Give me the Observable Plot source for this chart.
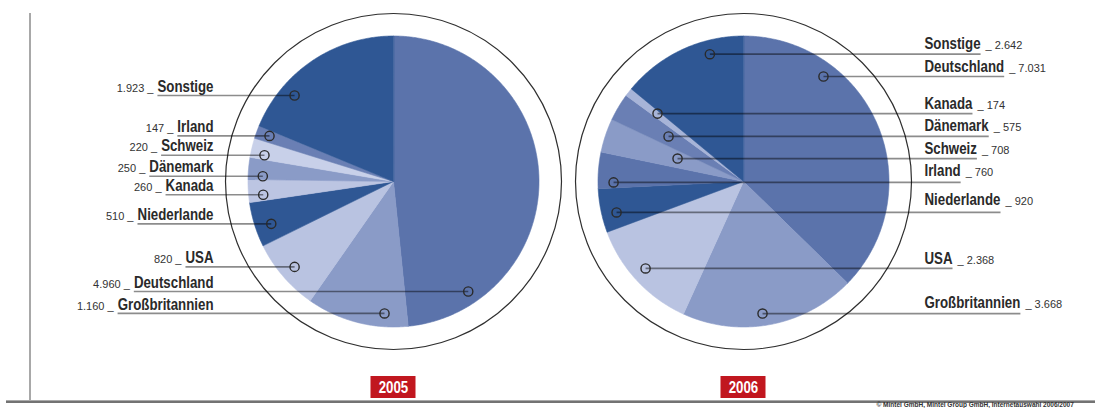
<!DOCTYPE html>
<html><head><meta charset="utf-8">
<script src="https://cdn.jsdelivr.net/npm/d3@7"></script>
<script src="https://cdn.jsdelivr.net/npm/@observablehq/plot@0.6"></script>
<style>
html,body{margin:0;padding:0;background:#fff;}
#chart svg{display:block;}
</style>
</head><body><div id="chart"></div>
<script>
// ---------------- data ----------------
const years = ["2005", "2006"];
const countries2005 = ["Deutschland","Großbritannien","USA","Niederlande","Kanada","Dänemark","Schweiz","Irland","Sonstige"];
const values2005 = [4960, 1160, 820, 510, 260, 250, 220, 147, 1923];
const countries2006 = ["Deutschland","Großbritannien","USA","Niederlande","Irland","Schweiz","Dänemark","Kanada","Sonstige"];
const values2006 = [7031, 3668, 2368, 920, 760, 708, 575, 174, 2642];
const caption = "© Mintel GmbH, Mintel Group GmbH, Internetauswahl 2006/2007";

// ---------------- styles ----------------
const colors2005 = ["#5b73ab","#8a9bc7","#b9c3e1","#2f5794","#bcc5e2","#8a9bc7","#c8d0e9","#6a7fb4","#2f5794"];
const colors2006 = ["#5b73ab","#8a9bc7","#b9c3e1","#2f5794","#5b73ab","#8a9bc7","#6a7fb4","#a7b4d8","#2f5794"];
const NAME_FONT = "'Liberation Sans',Arial,sans-serif";
const VALUE_FONT = "'Liberation Sans',Arial,sans-serif";
const NAME_SIZE = 16;
const CONDENSE = 0.83; // horizontal squeeze to imitate a condensed bold face

// ---------------- layout ----------------
const W = 1095, H = 408;
const R = 145.5;          // pie radius in px = 1 unit
const CX = 393, CY = 181; // centre of first pie in px
const u = px => px / R;   // px -> units
const pieX = [0, u(743 - 393)];
// leader marker positions: [angle deg clockwise from 12 o'clock, radius fraction]
const markers2005 = [[145.8,0.914],[183.9,0.909],[229.2,0.898],[250.9,0.889],[264.2,0.90],[272.3,0.899],[281.5,0.905],[290.2,0.908],[311,0.901]];
const markers2006 = [[37.3,0.907],[171.8,0.917],[228.4,0.90],[256.3,0.898],[269.6,0.893],[289.2,0.48],[301,0.601],[308.3,0.753],[345.2,0.905]];
// baseline offset (px) of each label above its leader line
const textDy2005 = [-3.8,-3.8,-3.8,-3.8,-3.8,-3.8,-3.8,-3.8,-3.8];
const textDy2006 = [-5,-5.2,-4.8,-7,-6.8,-4.5,-5,-5,-5.2];
const labelAnchor = [u(213 - CX), u(924 - CX)];

const fmt = d3.formatLocale({decimal: ",", thousands: ".", grouping: [3], currency: ["", "€"]}).format(",d");

const canvas = document.createElement("canvas").getContext("2d");
function nameWidth(t, size = NAME_SIZE) { canvas.font = `bold ${size}px 'Liberation Sans', Arial, sans-serif`; return canvas.measureText(t).width * CONDENSE; }

const pies = [
  {year: years[0], names: countries2005, values: values2005, colors: colors2005, markers: markers2005, dys: textDy2005, side: "left"},
  {year: years[1], names: countries2006, values: values2006, colors: colors2006, markers: markers2006, dys: textDy2006, side: "right"}
];

const wedgePts = [], labels = [];
pies.forEach((p, pi) => {
  const cx = pieX[pi];
  const arcs = d3.pie().sort(null).value(d => d)(p.values);
  arcs.forEach((a, i) => {
    const id = p.year + "-" + i;
    wedgePts.push({id, x: cx, y: 0, color: p.colors[i]});
    const n = Math.max(2, Math.ceil((a.endAngle - a.startAngle) / (Math.PI / 360)));
    for (let k = 0; k <= n; k++) {
      const t = a.startAngle + (a.endAngle - a.startAngle) * k / n;
      wedgePts.push({id, x: cx + Math.sin(t), y: -Math.cos(t), color: p.colors[i]});
    }
    const [ang, rf] = p.markers[i];
    const th = ang * Math.PI / 180;
    const mx = cx + rf * Math.sin(th), my = -rf * Math.cos(th);
    const nw = nameWidth(p.names[i]);
    const ax = labelAnchor[pi];
    const row = {name: p.names[i], mx, my, ty: my + u(p.dys[i]), side: p.side, ax};
    if (p.side === "left") {
      row.lx = ax - u(nw);
      row.vx = ax - u(nw + 4);
      row.vtext = fmt(p.values[i]) + " _";
    } else {
      row.lx = ax + u(nw);
      row.vx = ax + u(nw + 5);
      row.vtext = "_ " + fmt(p.values[i]);
    }
    labels.push(row);
  });
});
const left = labels.filter(d => d.side === "left");
const right = labels.filter(d => d.side === "right");
const yearRows = years.map((y, i) => ({year: y, cx: pieX[i], cy: u(387 - CY)}));

const chart = Plot.plot({
  width: W, height: H, margin: 0,
  x: {domain: [u(-CX), u(W - CX)], range: [0, W], axis: null},
  y: {domain: [u(-CY), u(H - CY)], range: [0, H], axis: null},
  color: {type: "identity"},
  style: {background: "#fff", overflow: "visible"},
  marks: [
    // outer rings
    Plot.dot(yearRows, {x: "cx", y: 0, r: 168, fill: "none", stroke: "#2f2f2f", strokeWidth: 1.2}),
    // wedges
    Plot.line(wedgePts, {x: "x", y: "y", z: "id", fill: "color", stroke: "color", strokeWidth: 0.6, curve: "linear-closed"}),
    // leader lines
    Plot.link(labels, {x1: "mx", y1: "my", x2: "lx", y2: "my", stroke: "#000", strokeOpacity: 0.45, strokeWidth: 1.7}),
    // markers
    Plot.dot(labels, {x: "mx", y: "my", r: 4.6, fill: "none", stroke: "#2a2a2a", strokeWidth: 1.4}),
    // names
    Plot.text(left, {x: "ax", y: "ty", text: "name", textAnchor: "end", lineAnchor: "bottom",
      fontSize: NAME_SIZE, fontWeight: "bold", fontFamily: NAME_FONT, fill: "#2a2a2a"}),
    Plot.text(right, {x: "ax", y: "ty", text: "name", textAnchor: "start", lineAnchor: "bottom",
      fontSize: NAME_SIZE, fontWeight: "bold", fontFamily: NAME_FONT, fill: "#2a2a2a"}),
    // values
    Plot.text(left, {x: "vx", y: "ty", text: "vtext", textAnchor: "end", lineAnchor: "bottom",
      fontSize: 11, fontFamily: VALUE_FONT, fill: "#333"}),
    Plot.text(right, {x: "vx", y: "ty", text: "vtext", textAnchor: "start", lineAnchor: "bottom",
      fontSize: 11, fontFamily: VALUE_FONT, fill: "#333"}),
    // year boxes
    Plot.rect(yearRows, {x1: d => d.cx - u(22.5), x2: d => d.cx + u(22.5), y1: d => d.cy - u(11), y2: d => d.cy + u(11), fill: "#c1171f"}),
    Plot.text(yearRows, {x: "cx", y: "cy", text: "year", fill: "#fff", fontSize: NAME_SIZE, fontWeight: "bold", fontFamily: NAME_FONT}),
    // frame lines
    Plot.ruleX([u(29.5 - CX)], {y1: u(13 - CY), y2: u(400 - CY), stroke: "#a8a8a8", strokeWidth: 2}),
    Plot.ruleY([u(400 - CY)], {x1: u(6 - CX), x2: u(W - CX), stroke: "#aaa", strokeWidth: 1}),
    Plot.ruleY([u(401.5 - CY)], {x1: u(6 - CX), x2: u(W - CX), stroke: "#444", strokeWidth: 1.4}),
    // caption
    Plot.text([caption], {x: u(876 - CX), y: u(406.5 - CY), text: d => d, textAnchor: "start", lineAnchor: "bottom",
      fontSize: 6.5, fontWeight: "bold", fontFamily: VALUE_FONT, fill: "#333"})
  ]
});
// squeeze the bold 16px labels horizontally around their anchor (condensed look)
d3.select(chart).selectAll(`g[font-size="${NAME_SIZE}"] text`).each(function () {
  const tr = this.getAttribute("transform");
  if (tr) {
    this.setAttribute("transform", tr + ` scale(${CONDENSE},1)`);
  } else {
    const x = +this.getAttribute("x") || 0, y = +this.getAttribute("y") || 0;
    this.removeAttribute("x"); this.removeAttribute("y");
    this.setAttribute("transform", `translate(${x},${y}) scale(${CONDENSE},1)`);
  }
});
document.getElementById("chart").appendChild(chart);
</script>
</body></html>
